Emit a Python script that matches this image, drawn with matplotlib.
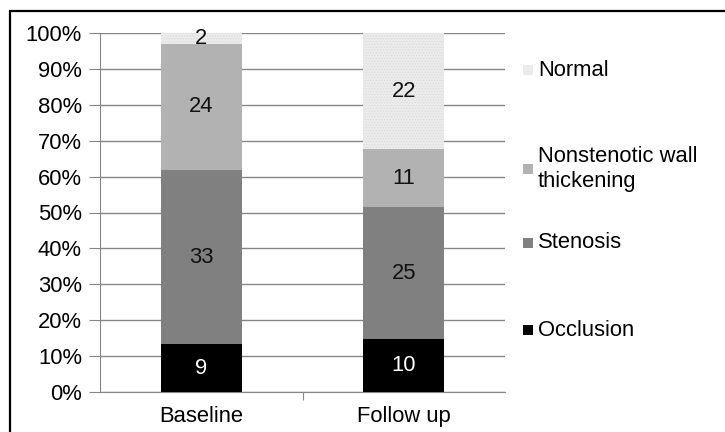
import matplotlib.pyplot as plt
from matplotlib.patches import Rectangle
import numpy as np

plt.rcParams['font.family'] = ['Liberation Sans', 'DejaVu Sans']
plt.rcParams['hatch.linewidth'] = 0.4

categories = ["Baseline", "Follow up"]
series = ["Occlusion", "Stenosis", "Nonstenotic wall\nthickening", "Normal"]
occlusion = [9, 10]
stenosis = [33, 25]
nonstenotic = [24, 11]
normal = [2, 22]
colors = ["#000000", "#808080", "#b2b2b2", "#ebebeb"]
label_colors = ["white", "#111111", "#111111", "#111111"]

counts = np.array([occlusion, stenosis, nonstenotic, normal], dtype=float)
pct = counts / counts.sum(axis=0) * 100

FS = 15.8
fig = plt.figure(figsize=(7.25, 4.32), dpi=100)
W, H = 725, 432
ax = fig.add_axes([100 / W, 1 - 392 / H, 405 / W, 359 / H])

# outer frame (runs off the right and bottom edges)
fig.patches.append(Rectangle((10 / W, -0.05), 1.0, 1 - 11 / H + 0.05,
                             transform=fig.transFigure, fill=False,
                             edgecolor="black", linewidth=1.6))

x = np.arange(len(categories))
bottom = np.zeros(len(categories))
for i in range(len(series)):
    hatch = "......" if i == 3 else None
    ax.bar(x, pct[i], 0.4, bottom=bottom, color=colors[i], zorder=3,
           hatch=hatch, edgecolor="#d9d9d9" if i == 3 else colors[i], linewidth=0)
    for j in range(len(categories)):
        ax.text(x[j], bottom[j] + pct[i][j] / 2, str(int(counts[i][j])),
                ha="center", va="center", fontsize=FS, color=label_colors[i], zorder=4)
    bottom += pct[i]

ax.set_xlim(-0.5, 1.5)
ax.set_ylim(0, 100)
ax.set_yticks(range(0, 101, 10))
ax.set_yticklabels([f"{v}%" for v in range(0, 101, 10)], fontsize=FS)
ax.yaxis.grid(True, color="#868686", linewidth=1, zorder=0)
ax.set_xticks([0.5])
ax.set_xticklabels([""])
ax.tick_params(axis="y", length=8, color="#868686", pad=5)
ax.tick_params(axis="x", length=6, color="#868686")
for j, c in enumerate(categories):
    ax.text(x[j], -4.0, c, ha="center", va="top", fontsize=FS,
            transform=ax.transData, clip_on=False)
for s in ["top", "right"]:
    ax.spines[s].set_visible(False)
ax.spines["left"].set_color("#868686")
ax.spines["bottom"].set_color("#868686")

# legend entries placed individually, top to bottom: Normal ... Occlusion
leg_y = [70, 169, 243, 330]
for k in range(len(series)):
    i = len(series) - 1 - k
    yy = 1 - leg_y[k] / H
    fig.patches.append(Rectangle((523 / W, yy - 5 / H), 10 / W, 10 / H,
                                 transform=fig.transFigure,
                                 facecolor=colors[i], edgecolor="none"))
    fig.text(538 / W, yy, series[i], fontsize=FS, va="center", ha="left",
             linespacing=1.3)

fig.savefig("out.png", dpi=100)
